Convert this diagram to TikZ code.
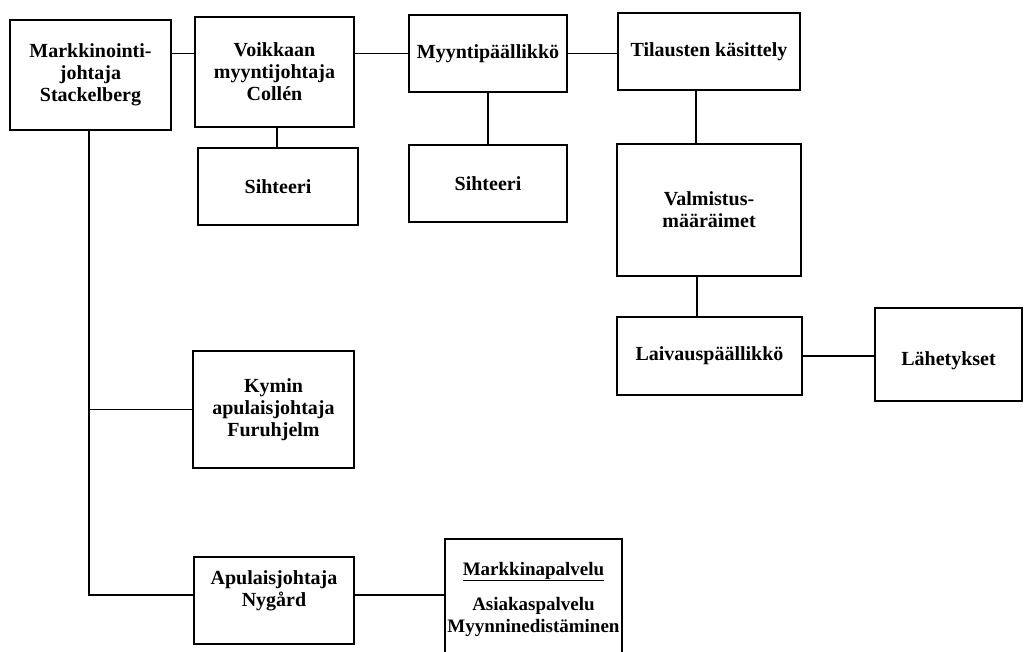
\documentclass[tikz,border=0pt]{standalone}
\usepackage{fontspec}
\setmainfont{Liberation Serif}
\begin{document}
\begin{tikzpicture}[x=1pt,y=-1pt,
  box/.style={draw, line width=1.1pt, align=center, inner sep=0pt,
    font=\fontsize{20}{22}\selectfont\bfseries},
  txt/.style={align=center, inner sep=0pt,
    font=\fontsize{20}{22}\selectfont\bfseries},
  link/.style={line width=1.1pt}]
\useasboundingbox (0,0) rectangle (1025,652);
\clip (0,0) rectangle (1025,652);

% boxes
\node[box, minimum width=161, minimum height=110] (A) at (90.5,75) {Markkinointi-\\johtaja\\Stackelberg};
\node[box, minimum width=159, minimum height=110] (B) at (274.5,72) {Voikkaan\\myyntijohtaja\\Collén};
\node[box, minimum width=158, minimum height=77] (C) at (488,53.5) {Myyntipäällikkö};
\node[box, minimum width=182, minimum height=77] (D) at (709,51.5) {Tilausten käsittely};
\node[box, minimum width=160, minimum height=77] (E) at (278,186.5) {Sihteeri};
\node[box, minimum width=158, minimum height=77] (F) at (488,183.5) {Sihteeri};
\node[box, minimum width=184, minimum height=132] (G) at (709,210) {Valmistus-\\määräimet};
\node[box, minimum width=185, minimum height=78] (H) at (709.5,356) {Laivauspäällikkö};
\node[box, minimum width=147, minimum height=93] (I) at (948.5,354.5) {};
\node[txt] (It) at (948.5,361) {Lähetykset};
\node[box, minimum width=161, minimum height=117] (J) at (273.5,409.5) {Kymin\\apulaisjohtaja\\Furuhjelm};
\node[box, minimum width=160, minimum height=87] (K) at (274,600.5) {};
\node[txt] (Kt) at (274,591) {Apulaisjohtaja\\Nygård};
\node[box, minimum width=177, minimum height=120, font=\fontsize{19}{22}\selectfont\bfseries] (L) at (533.5,599)
  {\underline{Markkinapalvelu}\\[13pt]Asiakaspalvelu\\Myynninedistäminen};

% junction point of the left trunk
\coordinate (tb) at (89,595);

% top row
\draw[link] (A.east |- C.west) -- (B.west |- C.west);
\draw[link] (B.east |- C.west) -- (C.west);
\draw[link] (C.east) -- (C.east -| D.west);
% secretaries
\draw[link] ([xshift=2.5pt]B.south) -- ([xshift=2.5pt]B.south |- E.north);
\draw[link] (C.south) -- (C.south |- F.north);
% order handling chain
\draw[link] ([xshift=-13pt]D.south) -- ([xshift=-13pt]D.south |- G.north);
\draw[link] ([xshift=-12pt]G.south) -- ([xshift=-12pt]G.south |- H.north);
\draw[link] (H.east) -- (H.east -| I.west);
% trunk on the left
\draw[link] ([xshift=-1.5pt]A.south) -- (tb) -- (tb -| K.west);
\draw[link] ([xshift=-1.5pt]A.south |- J.west) -- (J.west);
\draw[link] (tb -| K.east) -- (tb -| L.west);
\end{tikzpicture}
\end{document}
